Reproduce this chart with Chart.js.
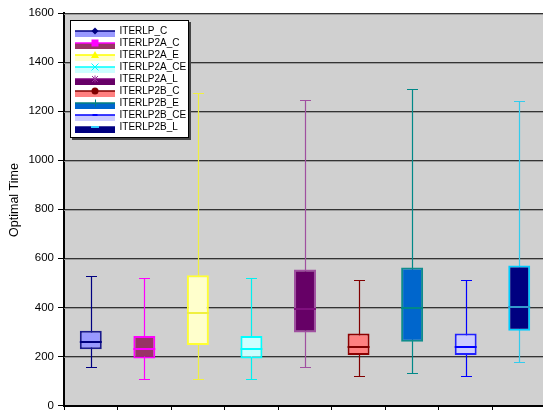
<!DOCTYPE html>
<html>
<head>
<meta charset="utf-8">
<script src="https://cdn.jsdelivr.net/npm/chart.js@4.4.1/dist/chart.umd.min.js"></script>
<style>
  html, body { margin: 0; padding: 0; background: #fff; overflow: hidden; }
  canvas { display: block; }
</style>
</head>
<body>
<canvas id="chart" width="546" height="410"></canvas>
<script>
// Box-and-whisker summary of optimal times for each ITERLP variant
const seriesNames = ['ITERLP_C', 'ITERLP2A_C', 'ITERLP2A_E', 'ITERLP2A_CE', 'ITERLP2A_L',
                     'ITERLP2B_C', 'ITERLP2B_E', 'ITERLP2B_CE', 'ITERLP2B_L'];
const maxVals    = [526, 520, 1275, 520, 1244, 510, 1289, 510, 1240];
const q3Vals     = [305, 283, 531, 283, 554, 293, 563, 293, 571];
const medianVals = [260, 229, 377, 229, 395, 238, 399, 238, 400];
const q1Vals     = [229, 192, 247, 192, 298, 206, 260, 206, 305];
const minVals    = [158, 108, 109, 108, 155, 120, 131, 120, 177];
const yTicks     = [0, 200, 400, 600, 800, 1000, 1200, 1400, 1600];

const fillColors    = ['#9999FF', '#993366', '#FFFFCC', '#CCFFFF', '#660066', '#FF8080', '#0066CC', '#CCCCFF', '#000080'];
const strokeColors  = ['#1A1A8C', '#FF00FF', '#FFFF33', '#00FFFF', '#A050A0', '#8C0000', '#0F8C8C', '#2020FF', '#00CCFF'];
const whiskerColors = ['#000080', '#FF00FF', '#F0F040', '#00F0F0', '#A050A0', '#800000', '#008888', '#0000FF', '#33CCEE'];
const medianColors  = ['#000080', '#FF00FF', '#F0F040', '#00FFFF', '#80107F', '#800000', '#008888', '#0000FF', '#3399CC'];
const legendLineColors   = ['#000080', '#FF00FF', '#FFFF00', '#00FFFF', '#800080', '#800000', '#008080', '#0000FF', '#000080'];
const legendMarkerColors = ['#000080', '#FF00FF', '#FFFF00', '#00FFFF', '#993399', '#800000', '#008080', '#0000FF', '#33CCFF'];
const legendMarkers = ['diamond', 'square', 'triangle', 'cross', 'star', 'circle', 'plus', 'dash', 'longdash'];

const FONT = 'Liberation Sans';

// Grey plot background
const plotBackground = {
  id: 'plotBackground',
  beforeDraw(chart) {
    const { ctx, chartArea: a } = chart;
    ctx.save();
    ctx.fillStyle = '#D0D0D0';
    ctx.fillRect(a.left, a.top, a.right - a.left, a.bottom - a.top);
    ctx.restore();
  }
};

// Whiskers under the boxes, medians on top
const boxWhiskers = {
  id: 'boxWhiskers',
  beforeDatasetsDraw(chart) {
    const { ctx } = chart;
    const y = chart.scales.y;
    const a = chart.chartArea;
    // soft shadow under each horizontal gridline
    ctx.save();
    ctx.strokeStyle = 'rgba(150,150,150,0.9)';
    ctx.lineWidth = 1;
    yTicks.forEach(v => {
      if (v === 0) return;
      const py = Math.round(y.getPixelForValue(v)) + 1.5;
      ctx.beginPath();
      ctx.moveTo(a.left, py);
      ctx.lineTo(a.right, py);
      ctx.stroke();
    });
    ctx.restore();

    const meta = chart.getDatasetMeta(0);
    ctx.save();
    ctx.lineWidth = 1.2;
    meta.data.forEach((bar, i) => {
      const x = Math.round(bar.x) + 0.5;
      const half = bar.width / 4;
      const yMax = Math.round(y.getPixelForValue(maxVals[i])) + 0.5;
      const yMin = Math.round(y.getPixelForValue(minVals[i])) + 0.5;
      ctx.strokeStyle = whiskerColors[i];
      ctx.beginPath();
      ctx.moveTo(x, yMax); ctx.lineTo(x, yMin);
      ctx.moveTo(x - half, yMax); ctx.lineTo(x + half, yMax);
      ctx.moveTo(x - half, yMin); ctx.lineTo(x + half, yMin);
      ctx.stroke();
    });
    ctx.restore();
  },
  afterDatasetsDraw(chart) {
    const { ctx } = chart;
    const y = chart.scales.y;
    const meta = chart.getDatasetMeta(0);
    ctx.save();
    ctx.lineWidth = 2;
    meta.data.forEach((bar, i) => {
      const py = Math.round(y.getPixelForValue(medianVals[i]));
      ctx.strokeStyle = medianColors[i];
      ctx.beginPath();
      ctx.moveTo(bar.x - bar.width / 2, py);
      ctx.lineTo(bar.x + bar.width / 2, py);
      ctx.stroke();
    });
    ctx.restore();
  }
};

function drawMarker(ctx, kind, x, y, color) {
  ctx.save();
  ctx.fillStyle = color;
  ctx.strokeStyle = color;
  ctx.lineWidth = 1;
  ctx.beginPath();
  switch (kind) {
    case 'diamond':
      ctx.moveTo(x, y - 3.5); ctx.lineTo(x + 3.5, y); ctx.lineTo(x, y + 3.5); ctx.lineTo(x - 3.5, y);
      ctx.closePath(); ctx.fill(); break;
    case 'square':
      ctx.fillRect(x - 3.5, y - 3.5, 7, 7); break;
    case 'triangle':
      ctx.moveTo(x, y - 4); ctx.lineTo(x + 4, y + 3); ctx.lineTo(x - 4, y + 3);
      ctx.closePath(); ctx.fill(); break;
    case 'cross':
      ctx.moveTo(x - 3.5, y - 3.5); ctx.lineTo(x + 3.5, y + 3.5);
      ctx.moveTo(x + 3.5, y - 3.5); ctx.lineTo(x - 3.5, y + 3.5);
      ctx.stroke(); break;
    case 'star':
      ctx.moveTo(x - 3, y - 3); ctx.lineTo(x + 3, y + 3);
      ctx.moveTo(x + 3, y - 3); ctx.lineTo(x - 3, y + 3);
      ctx.moveTo(x, y - 3.5); ctx.lineTo(x, y + 3.5);
      ctx.stroke(); break;
    case 'circle':
      ctx.arc(x, y, 3.5, 0, Math.PI * 2); ctx.fill(); break;
    case 'plus':
      ctx.moveTo(x - 3.5, y + 0.5); ctx.lineTo(x + 3.5, y + 0.5);
      ctx.moveTo(x + 0.5, y - 3.5); ctx.lineTo(x + 0.5, y + 3.5);
      ctx.stroke(); break;
    case 'dash':
      ctx.fillRect(x - 2.5, y - 1, 5, 2); break;
    case 'longdash':
      ctx.fillRect(x - 4, y - 1, 8, 2); break;
  }
  ctx.restore();
}

// Boxed legend inside the plot, top-left, plus the rotated y-axis title
const boxLegend = {
  id: 'boxLegend',
  afterDraw(chart) {
    const { ctx } = chart;
    const left = 70, top = 20, w = 118, h = 117;
    ctx.save();
    ctx.fillStyle = '#444';
    ctx.fillRect(left + 2, top + 2, w + 1, h + 1);
    ctx.fillStyle = '#FFFFFF';
    ctx.fillRect(left, top, w, h);
    ctx.strokeStyle = '#000';
    ctx.lineWidth = 1;
    ctx.strokeRect(left + 0.5, top + 0.5, w, h);

    ctx.font = '10px "' + FONT + '"';
    ctx.textBaseline = 'middle';
    ctx.textAlign = 'left';
    seriesNames.forEach((name, i) => {
      const ry = 31 + 12 * i;
      ctx.fillStyle = fillColors[i];
      ctx.fillRect(75, ry, 40, 6);
      ctx.strokeStyle = legendLineColors[i];
      ctx.lineWidth = 1.5;
      ctx.beginPath();
      ctx.moveTo(75, ry);
      ctx.lineTo(115, ry);
      ctx.stroke();
      drawMarker(ctx, legendMarkers[i], 95, ry, legendMarkerColors[i]);
      ctx.fillStyle = '#000';
      ctx.fillText(name, 119.5, ry + 0.5);
    });

    // y-axis title
    ctx.translate(18, 200);
    ctx.rotate(-Math.PI / 2);
    ctx.font = '12.5px "' + FONT + '"';
    ctx.textAlign = 'center';
    ctx.textBaseline = 'alphabetic';
    ctx.fillStyle = '#000';
    ctx.fillText('Optimal Time', 0, 0);
    ctx.restore();
  }
};

new Chart(document.getElementById('chart'), {
  type: 'bar',
  data: {
    labels: seriesNames,
    datasets: [{
      data: seriesNames.map((_, i) => [q1Vals[i], q3Vals[i]]),
      backgroundColor: fillColors,
      borderColor: strokeColors,
      borderWidth: 2,
      borderSkipped: false,
      barPercentage: 0.41,
      categoryPercentage: 1
    }]
  },
  options: {
    responsive: false,
    animation: false,
    layout: { padding: { top: 13, left: 0, right: 0, bottom: 0 } },
    plugins: { legend: { display: false }, tooltip: { enabled: false } },
    scales: {
      x: {
        grid: { offset: true, drawOnChartArea: false, drawTicks: true, tickLength: 5, tickColor: '#000', color: '#000' },
        border: { color: '#000', width: 2 },
        ticks: { display: false },
        afterFit(scale) { scale.height = 4.5; }
      },
      y: {
        min: 0,
        max: 1600,
        afterBuildTicks(scale) { scale.ticks = yTicks.map(v => ({ value: v })); },
        ticks: {
          font: { family: FONT, size: 11.5 },
          color: '#000',
          padding: 4,
          callback: v => String(v)
        },
        grid: { color: '#333', lineWidth: 1, tickColor: '#000', tickLength: 6 },
        border: { color: '#000', width: 2 },
        afterFit(scale) {
          scale.width = 64;
          scale.paddingTop = 0;
          scale.paddingBottom = 0;
        }
      }
    }
  },
  plugins: [plotBackground, boxWhiskers, boxLegend]
});
</script>
</body>
</html>
